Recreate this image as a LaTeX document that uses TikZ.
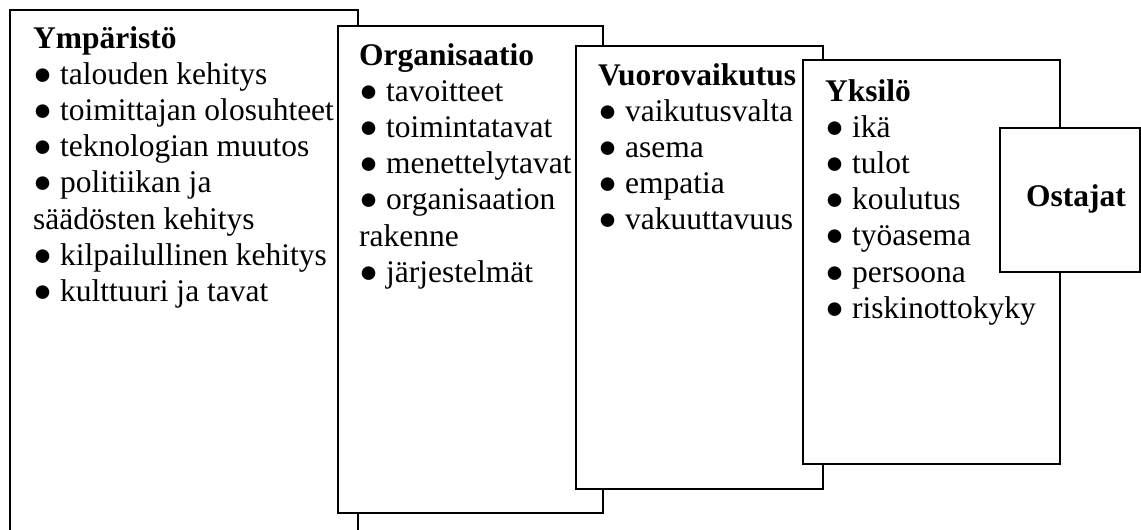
\documentclass[tikz,border=0pt]{standalone}
\usepackage{fontspec}
\setmainfont{Liberation Serif}
\begin{document}
\begin{tikzpicture}[x=1pt,y=-1pt,
  boxline/.style={draw=black, fill=white, line width=1.3pt},
  title/.style={anchor=base west, inner sep=0pt, font=\fontsize{31.5}{36}\selectfont\bfseries},
  item/.style={anchor=base west, inner sep=0pt, font=\fontsize{31.5}{36}\selectfont}]
\useasboundingbox[fill=white] (0,0) rectangle (1141,530);
% Ymparisto
\draw[line width=1.3pt] (10,530) -- (10,10) -- (358,10) -- (358,530);
\node[title] (ytitle) at (33,48) {Ympäristö};
\foreach \t [count=\i] in {● talouden kehitys, ● toimittajan olosuhteet, ● teknologian muutos, ● politiikan ja, säädösten kehitys, ● kilpailullinen kehitys, ● kulttuuri ja tavat}
  \node[item] (y\i) at (33,{48+36.2*\i}) {\t};
% Organisaatio
\path[boxline] (338,26) rectangle (603,513);
\node[title] (otitle) at (359,65) {Organisaatio};
\foreach \t [count=\i] in {● tavoitteet, ● toimintatavat, ● menettelytavat, ● organisaation, rakenne, ● järjestelmät}
  \node[item] (o\i) at (359,{65+36.2*\i}) {\t};
% Vuorovaikutus
\path[boxline] (576,46) rectangle (823,489);
\node[title] (vtitle) at (598,85) {Vuorovaikutus};
\foreach \t [count=\i] in {● vaikutusvalta, ● asema, ● empatia, ● vakuuttavuus}
  \node[item] (v\i) at (598,{85+36.2*\i}) {\t};
% Yksilo
\path[boxline] (803,60) rectangle (1060,464);
\node[title] (ktitle) at (825,101) {Yksilö};
\foreach \t [count=\i] in {● ikä, ● tulot, ● koulutus, ● työasema, ● persoona, ● riskinottokyky}
  \node[item] (k\i) at (825,{101+36.2*\i}) {\t};
% Ostajat
\path[boxline] (1000,128) rectangle (1140,272);
\node[title, anchor=base] (ostajat) at (1076,206) {Ostajat};
\end{tikzpicture}
\end{document}
